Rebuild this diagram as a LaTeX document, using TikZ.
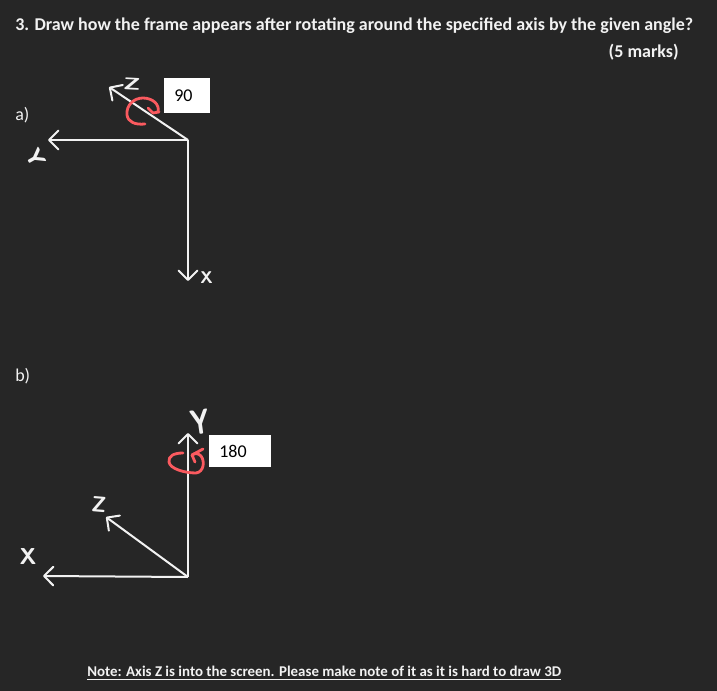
\documentclass[tikz,border=0pt]{standalone}
\usepackage{fontspec}
\setmainfont{Carlito}
\usetikzlibrary{arrows.meta}
\definecolor{panel}{RGB}{38,38,38}
\definecolor{chalk}{RGB}{242,242,242}
\definecolor{penred}{RGB}{250,90,95}
\newcommand{\penletter}[3]{\scalebox{#1}[#2]{#3}}
\tikzset{
	axisline/.style={
		draw=chalk, line width=1.5pt,
		-{Straight Barb[length=7pt,width=14pt,line width=1.5pt,round]}},
	swirl/.style={
		draw=penred, line width=2.1pt, line cap=round, line join=round},
	handletter/.style={
		text=chalk, font=\sffamily\bfseries\fontsize{15}{15}\selectfont, inner sep=0pt},
	anglebox/.style={
		fill=white, text=black, font=\fontsize{13.5}{15}\selectfont, inner ysep=0pt, inner xsep=7.5pt, align=left, anchor=north west},
	sheettext/.style={
		text=chalk, font=\fontsize{13.5}{15}\selectfont, inner sep=0pt},
	notetext/.style={
		text=chalk, font=\fontsize{11.17}{13}\selectfont, inner sep=0pt}
}

\begin{document}
\begin{tikzpicture}[x=0.75pt,y=0.75pt,yscale=-1,xscale=1]
\useasboundingbox (0,0) rectangle (717,691);
\fill [panel] (0,0) rectangle (717,691);

\node [sheettext, anchor=west] (question) at (15,26) {\bfseries 3. Draw how the frame appears after rotating around the specified axis by the given angle?};
\node [sheettext, anchor=east] (marks) at (679,52) {\bfseries (5 marks)};
\node [sheettext, anchor=west] (parta) at (15,115) {a)};
\node [sheettext, anchor=west] (partb) at (15,376) {b)};
\node [notetext, anchor=west] (note) at (87,673) {\bfseries\underline{Note: Axis Z is into the screen. Please make note of it as it is hard to draw 3D}};

% part a
\coordinate (originA) at (188,140);
\coordinate (xtipA) at (188,281);
\coordinate (ytipA) at (48,140);
\coordinate (ztipA) at (109,87);
\draw [axisline] (originA) -- (xtipA);
\draw [axisline] (originA) -- (ytipA);
\draw [axisline] (originA) -- (ztipA);
\node [handletter] (xlabelA) at (206.5,278) {\penletter{0.85}{0.85}{X}};
\node [handletter, rotate=-60] (ylabelA) at (36,158) {\penletter{1.2}{1.15}{Y}};
\node [handletter, rotate=-3] (zlabelA) at (132,84) {\penletter{1.3}{0.85}{Z}};
\node [anglebox, text width=19.5pt, minimum height=26pt] (boxA) at (164,78) {90};
\draw [swirl] (145,124) .. controls (135,125) and (128,122) .. (127,115) .. controls (126,105) and (134,98) .. (143,98) .. controls (152,98) and (160,104) .. (158,112);
\draw [swirl] (148,108) -- (153,113) -- (159,112);

% part b
\coordinate (originB) at (188,577);
\coordinate (ytipB) at (188,433);
\coordinate (xtipB) at (43,576);
\coordinate (ztipB) at (106,517);
\draw [axisline] (originB) -- (ytipB);
\draw [axisline] (originB) -- (xtipB);
\draw [axisline] (originB) -- (ztipB);
\node [handletter] (xlabelB) at (28,557) {\penletter{1.15}{1.15}{X}};
\node [handletter, rotate=8] (ylabelB) at (200,422) {\penletter{1.3}{1.75}{Y}};
\node [handletter, rotate=-5] (zlabelB) at (99,505) {\penletter{1.1}{1.1}{Z}};
\node [anglebox, text width=31.5pt, minimum height=23.5pt] (boxB) at (209,435) {180};
\draw [swirl] (183,453) .. controls (174,453) and (168,456) .. (169,462) .. controls (170,469) and (185,473) .. (196,473) .. controls (204,472) and (205,461) .. (201,456) .. controls (198,453) and (195,453) .. (192,455);
\draw [swirl] (203,449) -- (192,455) -- (195,462);

\end{tikzpicture}
\end{document}
